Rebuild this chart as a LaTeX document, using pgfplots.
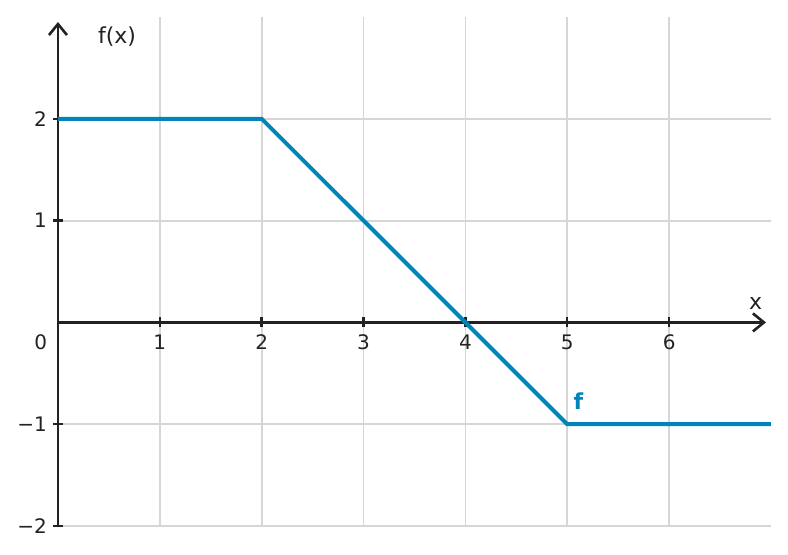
\documentclass[border=0pt]{standalone}
\usepackage{pgfplots}
\pgfplotsset{compat=1.18}
\usetikzlibrary{arrows.meta}
\usepackage{fontspec}
\setmainfont{DejaVu Sans}
\definecolor{fblue}{RGB}{0,132,186}
\definecolor{axgray}{RGB}{34,34,34}
\definecolor{gridgray}{RGB}{214,214,214}
\begin{document}
\begin{tikzpicture}
\begin{axis}[
    scale only axis,
    width=356.5pt,
    height=254.5pt,
    axis lines=middle,
    axis line style={axgray, line width=1.3pt, shorten >=2.5pt,
        -{Straight Barb[length=5.5pt,width=9pt,line width=1.3pt]}},
    xmin=0, xmax=7,
    ymin=-2, ymax=3,
    xtick={1,...,6},
    ytick={-2,-1,1,2},
    yticklabels={−2,−1,1,2},
    xticklabels={1,2,3,4,5,6},
    grid=major,
    grid style={gridgray, line width=0.9pt},
    major tick length=5pt,
    tick style={axgray, line width=1.2pt},
    tick label style={font=\fontsize{10}{12}\selectfont, text=axgray},
    y tick label style={xshift=0.5pt},
    clip=false,
]
\addplot[fblue, line width=2pt] coordinates {
    (0,2) (2,2) (5,-1) (7,-1)
};
\node[font=\fontsize{10}{12}\selectfont, text=axgray] at (axis cs:-0.17,-0.19) {0};
\node[font=\fontsize{11}{13}\selectfont, text=axgray] at (axis cs:0.58,2.81) {f(x)};
\node[font=\fontsize{11}{13}\selectfont, text=axgray] at (axis cs:6.85,0.19) {x};
\node[font=\fontsize{11}{13}\selectfont\bfseries, text=fblue] at (axis cs:5.11,-0.77) {f};
\path (axis cs:-0.569,-2.275) rectangle (axis cs:7.167,3.167);
\end{axis}
\end{tikzpicture}
\end{document}
